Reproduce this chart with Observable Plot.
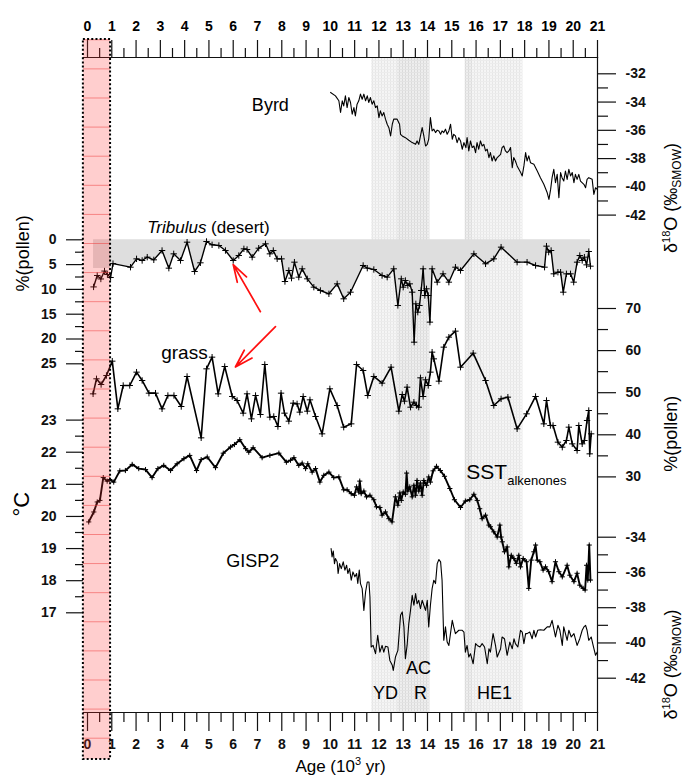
<!DOCTYPE html>
<html><head><meta charset="utf-8">
<script src="https://cdn.jsdelivr.net/npm/d3@7"></script>
<script src="https://cdn.jsdelivr.net/npm/@observablehq/plot@0.6"></script>
<style>
body{margin:0;background:#fff;}
#chart{position:relative;width:686px;height:781px;}
#chart svg{position:absolute;left:0;top:0;}
</style></head><body><div id="chart"></div>
<svg width="0" height="0" style="position:absolute">
  <defs>
    <pattern id="redgrid" patternUnits="userSpaceOnUse" width="8" height="29.1" y="10.2">
      <rect width="8" height="29.1" fill="#ff3030" fill-opacity="0.24"></rect>
      <line x1="0" x2="8" y1="0.5" y2="0.5" stroke="#ee4444" stroke-opacity="0.55" stroke-width="1"></line>
    </pattern>
    <pattern id="stipLight" patternUnits="userSpaceOnUse" width="3" height="3">
      <rect width="3" height="3" fill="#f5f5f5"></rect>
      <rect width="1" height="3" fill="#e6e6e6"></rect>
      <rect width="3" height="1" fill="#ececec"></rect>
    </pattern>
    <pattern id="stipDark" patternUnits="userSpaceOnUse" width="3" height="3">
      <rect width="3" height="3" fill="#eeeeee"></rect>
      <rect width="1" height="3" fill="#dadada"></rect>
      <rect width="3" height="1" fill="#e3e3e3"></rect>
    </pattern>
  </defs>
</svg>
<script>
// ---------- data ----------
const ageMajor = d3.range(0, 22);
const ageMinor = d3.range(0.5, 21, 1);
const byrdTicks = [-32, -34, -36, -38, -40, -42];
const byrdMinor = [-33, -35, -37, -39, -41];
const pollenTicks = [0, 5, 10, 15, 20, 25];
const pollenMinor = [2.5, 7.5, 12.5, 17.5, 22.5];
const grassTicks = [30, 40, 50, 60, 70];
const grassMinor = [35, 45, 55, 65];
const sstTicks = [17, 18, 19, 20, 21, 22, 23];
const sstMinor = [17.5, 18.5, 19.5, 20.5, 21.5, 22.5];
const gispTicks = [-34, -36, -38, -40, -42];
const gispMinor = [-35, -37, -39, -41];

const bands = [
  {x1: 11.7, x2: 12.75, tone: "light"},
  {x1: 12.75, x2: 14.1, tone: "dark"},
  {x1: 15.55, x2: 15.85, tone: "dark"},
  {x1: 15.85, x2: 17.93, tone: "light"}
];
const lateHolocene = [{x1: -0.17, x2: 0.95}];

const byrd = [[10.01,-33.32],[10.21,-33.56],[10.35,-33.91],[10.42,-34.74],[10.49,-33.91],[10.55,-34.27],[10.62,-33.56],[10.69,-34.39],[10.76,-33.68],[10.83,-34.03],[10.90,-34.86],[10.97,-34.39],[11.03,-34.98],[11.10,-34.15],[11.17,-33.91],[11.24,-33.44],[11.31,-33.80],[11.38,-33.44],[11.45,-33.91],[11.52,-33.56],[11.58,-34.03],[11.65,-33.68],[11.72,-34.15],[11.79,-33.91],[11.86,-34.39],[11.93,-34.27],[12.00,-35.10],[12.06,-34.62],[12.13,-34.98],[12.20,-34.74],[12.27,-35.21],[12.34,-35.57],[12.41,-35.81],[12.48,-36.40],[12.55,-35.57],[12.61,-35.21],[12.75,-35.21],[12.85,-35.57],[12.89,-36.28],[12.96,-36.40],[13.09,-36.52],[13.23,-36.70],[13.37,-36.87],[13.51,-36.99],[13.57,-36.75],[13.64,-36.99],[13.78,-35.81],[13.85,-36.40],[13.92,-37.11],[13.99,-36.99],[14.05,-36.63],[14.12,-35.10],[14.19,-36.04],[14.26,-35.92],[14.33,-36.16],[14.40,-35.99],[14.47,-36.04],[14.54,-36.28],[14.60,-36.04],[14.67,-36.16],[14.74,-35.92],[14.81,-36.28],[14.88,-36.04],[14.95,-35.57],[15.02,-36.63],[15.08,-36.28],[15.15,-36.40],[15.22,-36.87],[15.29,-36.52],[15.36,-36.75],[15.43,-37.34],[15.50,-36.87],[15.58,-37.22],[15.63,-36.52],[15.70,-37.46],[15.77,-36.75],[15.84,-37.22],[15.91,-37.11],[15.98,-37.58],[16.04,-36.87],[16.11,-37.34],[16.18,-36.75],[16.25,-37.11],[16.32,-36.99],[16.39,-37.46],[16.46,-37.34],[16.53,-37.93],[16.59,-37.58],[16.66,-38.17],[16.73,-37.81],[16.80,-38.17],[16.87,-37.93],[17.01,-37.70],[17.07,-37.22],[17.14,-37.11],[17.21,-37.46],[17.28,-37.58],[17.35,-37.46],[17.42,-37.22],[17.49,-38.64],[17.55,-37.93],[17.62,-38.17],[17.69,-38.52],[17.83,-38.96],[17.90,-39.23],[17.97,-38.52],[18.04,-37.58],[18.10,-38.17],[18.17,-37.81],[18.24,-38.29],[18.38,-38.40],[18.52,-38.88],[18.65,-39.35],[18.79,-39.82],[18.93,-40.42],[19.00,-40.89],[19.07,-40.18],[19.13,-39.35],[19.20,-38.76],[19.27,-39.71],[19.34,-39.12],[19.41,-40.77],[19.48,-38.99],[19.54,-39.35],[19.61,-39.59],[19.68,-38.88],[19.75,-39.47],[19.82,-38.76],[19.89,-39.23],[19.96,-38.99],[20.03,-39.71],[20.09,-39.12],[20.16,-39.47],[20.23,-39.12],[20.30,-39.59],[20.44,-39.82],[20.51,-40.06],[20.57,-39.47],[20.64,-39.35],[20.78,-39.47],[20.85,-40.53],[20.92,-40.06],[20.99,-40.18]];

const tribulus = [[0.25,9.5],[0.4,7.2],[0.55,7.9],[0.7,6.3],[0.82,7.0],[0.95,7.6],[1.05,4.8],[1.77,5.52],[2.02,3.84],[2.25,4.17],[2.46,3.50],[2.73,4.04],[3.07,2.16],[3.35,5.72],[3.55,2.83],[3.83,4.17],[4.10,0.48],[4.41,6.39],[4.65,4.64],[4.90,0.34],[5.13,1.01],[5.41,1.15],[5.68,2.16],[6.00,4.17],[6.23,3.17],[6.44,1.82],[6.57,1.96],[6.78,3.50],[7.05,1.69],[7.33,0.81],[7.51,2.83],[7.65,2.16],[7.81,3.84],[7.99,3.84],[8.13,8.41],[8.29,6.19],[8.40,7.73],[8.52,4.51],[8.70,7.53],[8.84,5.85],[9.05,7.87],[9.32,9.55],[9.59,10.22],[9.94,10.89],[10.28,8.88],[10.55,11.90],[10.83,10.56],[11.35,5.18],[11.52,5.72],[11.79,5.99],[12.13,7.20],[12.34,7.53],[12.61,5.85],[12.78,13.24],[12.92,7.87],[13.00,9.55],[13.09,8.21],[13.19,9.21],[13.27,8.88],[13.37,10.56],[13.45,20.64],[13.52,12.91],[13.60,14.59],[13.67,13.24],[13.74,10.22],[13.82,5.85],[13.89,11.23],[13.96,9.88],[14.03,11.23],[14.10,16.60],[14.19,5.85],[14.40,8.54],[14.64,6.86],[14.88,8.54],[15.15,5.52],[15.36,6.19],[15.91,2.83],[16.39,4.84],[16.73,3.84],[17.03,1.48],[17.69,4.51],[18.10,4.51],[18.45,5.18],[18.82,5.52],[18.90,1.28],[18.99,2.49],[19.09,2.16],[19.20,6.86],[19.37,6.53],[19.48,6.53],[19.59,10.56],[19.72,6.86],[19.89,6.86],[20.02,8.54],[20.16,4.51],[20.27,3.17],[20.37,4.17],[20.46,3.50],[20.55,5.05],[20.64,2.36],[20.71,5.32]];
const tribulusShadeEarly = [[0.25,5.8],[0.95,5.8]];

const grass = [[0.23,49.73],[0.37,53.3],[0.56,51.95],[0.78,54.08],[1.02,57.49],[1.25,46.17],[1.47,51.71],[1.74,51.71],[2.02,54.88],[2.25,52.9],[2.53,49.89],[2.80,49.89],[3.07,46.17],[3.31,49.33],[3.56,49.33],[3.86,46.72],[4.10,53.85],[4.68,39.28],[4.90,55.67],[5.13,58.44],[5.38,49.73],[5.65,56.22],[5.96,49.1],[6.16,48.15],[6.41,45.14],[6.57,49.73],[6.75,43.79],[6.92,49.33],[7.12,44.82],[7.30,56.7],[7.51,44.19],[7.67,44.35],[7.84,41.97],[7.97,49.89],[8.11,45.14],[8.29,43.24],[8.47,47.51],[8.63,47.35],[8.74,45.38],[8.88,49.1],[9.05,45.61],[9.16,48.3],[9.39,44.35],[9.66,40.23],[9.98,50.92],[10.28,46.96],[10.55,41.81],[10.86,42.6],[11.08,56.7],[11.35,55.27],[11.54,49.33],[11.79,53.85],[12.13,52.27],[12.50,56.06],[12.82,45.61],[12.96,49.57],[13.05,47.99],[13.16,51.31],[13.30,46.56],[13.44,47.75],[13.55,46.96],[13.64,46.56],[13.71,53.53],[13.82,49.1],[13.92,53.06],[14.03,51.71],[14.12,54.88],[14.19,59.63],[14.26,58.04],[14.47,52.74],[14.67,60.82],[14.88,63.19],[15.15,64.62],[15.36,56.06],[15.88,59.39],[16.39,52.9],[16.73,46.96],[17.03,48.54],[17.31,48.94],[17.69,41.42],[18.08,44.98],[18.45,49.1],[18.79,42.6],[18.90,48.15],[19.06,42.21],[19.17,42.21],[19.37,38.25],[19.55,37.06],[19.72,38.64],[19.82,41.81],[19.96,37.85],[20.16,36.27],[20.23,42.21],[20.37,37.85],[20.46,38.64],[20.57,43.4],[20.64,45.77],[20.68,35.48],[20.74,40.23]];

const sst = [[0.05,19.83],[0.26,20.14],[0.40,20.45],[0.51,20.50],[0.65,21.21],[0.81,21.10],[0.92,21.15],[1.08,21.07],[1.33,21.42],[1.56,21.43],[1.84,21.62],[2.11,21.49],[2.39,21.46],[2.66,21.21],[2.90,21.49],[3.14,21.59],[3.42,21.43],[3.69,21.64],[3.97,21.80],[4.21,21.90],[4.49,21.43],[4.68,21.77],[4.93,21.85],[5.27,21.52],[5.59,21.97],[5.89,22.16],[6.05,22.24],[6.27,22.39],[6.51,22.11],[6.64,22.00],[6.82,22.14],[7.19,21.83],[7.51,21.90],[7.88,21.97],[8.19,21.69],[8.36,21.75],[8.50,21.83],[8.70,21.59],[8.84,21.66],[8.98,21.49],[9.07,21.64],[9.25,21.38],[9.39,21.49],[9.57,21.07],[9.73,21.28],[9.94,21.38],[10.14,21.21],[10.35,21.23],[10.55,20.83],[10.69,20.83],[10.86,20.71],[10.99,20.66],[11.08,20.92],[11.17,20.76],[11.21,21.10],[11.27,20.71],[11.38,20.79],[11.49,20.61],[11.63,20.66],[11.79,20.52],[11.90,20.30],[12.04,20.28],[12.13,20.04],[12.27,20.14],[12.41,19.93],[12.54,19.83],[12.68,20.61],[12.78,20.35],[12.86,20.73],[12.92,20.50],[13.00,20.76],[13.09,20.69],[13.14,21.35],[13.19,20.79],[13.27,20.92],[13.37,20.61],[13.44,20.97],[13.51,20.66],[13.57,21.12],[13.64,20.79],[13.71,21.04],[13.78,20.66],[13.85,21.12],[13.96,20.97],[14.05,21.23],[14.12,21.07],[14.23,21.42],[14.37,21.56],[14.53,21.43],[14.70,21.25],[14.92,20.87],[15.11,20.52],[15.36,20.28],[15.56,20.48],[15.74,20.52],[15.91,20.69],[16.05,20.50],[16.15,20.24],[16.25,19.93],[16.39,20.04],[16.53,19.73],[16.59,19.68],[16.73,19.52],[16.87,19.36],[16.98,19.73],[17.03,19.36],[17.08,19.21],[17.17,18.90],[17.28,19.05],[17.35,18.43],[17.45,18.79],[17.56,18.69],[17.66,18.54],[17.76,18.79],[17.83,18.43],[17.94,18.69],[18.08,18.59],[18.17,17.76],[18.27,18.64],[18.38,18.90],[18.45,19.11],[18.52,18.64],[18.63,18.59],[18.76,18.33],[18.86,18.43],[18.99,18.28],[19.13,17.97],[19.27,18.59],[19.41,18.28],[19.55,18.12],[19.75,18.48],[19.86,18.17],[20.03,17.97],[20.16,18.23],[20.27,17.86],[20.41,17.76],[20.49,17.71],[20.55,18.48],[20.60,18.02],[20.66,19.11],[20.71,18.02]];

const gisp2 = [[10.03,-34.64],[10.07,-35.12],[10.12,-34.78],[10.17,-35.50],[10.21,-35.21],[10.28,-35.40],[10.32,-36.06],[10.38,-35.50],[10.45,-35.78],[10.53,-35.40],[10.60,-35.87],[10.67,-35.59],[10.72,-36.06],[10.79,-35.78],[10.86,-36.44],[10.93,-35.97],[11.01,-36.25],[11.08,-36.06],[11.13,-36.63],[11.19,-35.87],[11.24,-36.63],[11.31,-36.92],[11.38,-38.15],[11.45,-37.11],[11.52,-36.54],[11.59,-36.54],[11.63,-37.39],[11.68,-40.23],[11.76,-40.14],[11.86,-40.61],[11.95,-39.57],[12.04,-40.52],[12.13,-40.14],[12.20,-40.52],[12.27,-40.19],[12.37,-40.23],[12.45,-40.99],[12.55,-41.27],[12.59,-41.56],[12.68,-40.80],[12.78,-40.42],[12.89,-38.43],[12.96,-38.24],[13.03,-39.09],[13.09,-40.89],[13.16,-40.14],[13.23,-38.90],[13.30,-38.15],[13.37,-37.30],[13.44,-37.86],[13.51,-37.20],[13.57,-37.77],[13.64,-37.58],[13.71,-38.05],[13.78,-37.58],[13.85,-37.86],[13.92,-38.15],[13.99,-37.58],[14.05,-39.09],[14.12,-37.86],[14.19,-36.92],[14.26,-36.44],[14.33,-36.63],[14.40,-35.50],[14.47,-35.27],[14.54,-35.40],[14.60,-36.44],[14.67,-39.85],[14.74,-39.09],[14.81,-39.95],[14.88,-40.14],[15.02,-38.72],[15.08,-39.09],[15.15,-39.47],[15.29,-39.28],[15.43,-39.28],[15.50,-39.38],[15.56,-40.52],[15.63,-40.14],[15.70,-40.80],[15.77,-40.61],[15.88,-41.18],[15.98,-40.04],[16.05,-40.14],[16.16,-40.23],[16.25,-40.04],[16.35,-40.23],[16.46,-41.18],[16.53,-40.33],[16.59,-40.52],[16.70,-39.47],[16.80,-40.14],[16.87,-40.80],[17.01,-40.33],[17.07,-39.66],[17.17,-39.76],[17.28,-40.70],[17.39,-39.95],[17.49,-40.33],[17.56,-39.76],[17.62,-40.04],[17.72,-40.23],[17.83,-39.28],[17.90,-39.38],[17.97,-40.04],[18.04,-39.47],[18.10,-39.47],[18.21,-39.38],[18.31,-39.76],[18.38,-39.28],[18.45,-39.66],[18.54,-39.28],[18.65,-39.25],[18.79,-39.28],[18.93,-39.09],[19.04,-39.09],[19.13,-38.72],[19.20,-39.19],[19.27,-39.66],[19.37,-39.00],[19.45,-39.28],[19.55,-40.14],[19.61,-39.09],[19.68,-39.47],[19.75,-39.85],[19.82,-39.28],[19.92,-39.66],[20.03,-39.47],[20.16,-40.14],[20.27,-39.76],[20.37,-39.28],[20.44,-39.09],[20.51,-39.00],[20.57,-39.28],[20.64,-39.85],[20.74,-39.66],[20.82,-40.14],[20.92,-40.70],[20.99,-40.52]];

// ---------- rendering ----------
const FONT = '"Liberation Sans", Arial, Helvetica, sans-serif';
const W = 686, H = 781;
const X = {domain: [0, 21], range: [87, 597], axis: null};
const fmt = d => String(d);
const ax = d => d[0], vy = d => d[1];

function layer(y, marks, margins = {}) {
  return Plot.plot({
    width: W, height: H,
    marginTop: 57, marginBottom: 69, marginLeft: 83, marginRight: 89,
    ...margins,
    x: X,
    y: y ? {...y, axis: null} : undefined,
    style: {background: "transparent", fontFamily: FONT, overflow: "visible", color: "#111"},
    marks
  });
}
function axisPair(anchor, major, minor, size, sizeMinor, pad, labels = true) {
  const A = (anchor === "top" || anchor === "bottom") ? Plot.axisX : Plot.axisY;
  return [
    A({anchor, ticks: major, tickSize: size, tickPadding: pad, tickFormat: labels ? fmt : () => "", fontSize: 14, fontWeight: "bold", label: null, strokeWidth: 1.2}),
    A({anchor, ticks: minor, tickSize: sizeMinor, tickFormat: () => "", label: null, strokeWidth: 1.2})
  ];
}
function series(data, w, markers) {
  const m = [Plot.line(data, {x: ax, y: vy, stroke: "#000", strokeWidth: w, strokeLinejoin: "round"})];
  if (markers) m.push(Plot.dot(data, {x: ax, y: vy, symbol: "plus", r: markers, stroke: "#000", strokeWidth: 1}));
  return m;
}
const T = {fill: "#000", fontFamily: FONT};

const layers = [];
// shaded intervals
layers.push(layer(null, [
  Plot.barX(bands, {x1: "x1", x2: "x2", fill: d => d.tone === "dark" ? "url(#stipDark)" : "url(#stipLight)"})
]));
// age axes & frame
layers.push(layer(null, [
  Plot.frame({anchor: "top", strokeWidth: 1.2}),
  Plot.frame({anchor: "bottom", strokeWidth: 1.2}),
  Plot.frame({anchor: "right", strokeWidth: 1.2}),
  ...axisPair("top", ageMajor, ageMinor, 18, 10, 2, false),
  Plot.text(ageMajor, {x: d => d, text: fmt, frameAnchor: "top", dy: -36, fontSize: 14, fontWeight: "bold", ...T}),
  ...axisPair("bottom", ageMajor, ageMinor, 19, 10, 8),
  Plot.text(["Age (103 yr)"], {frameAnchor: "bottom", dy: 59, fontSize: 17, ...T})
]));
// Byrd
layers.push(layer({domain: [-42, -32], range: [214.6, 73.3]}, [
  ...axisPair("right", byrdTicks, byrdMinor, 18, 10, 10),
  ...series(byrd, 1.1, 0),
  Plot.text(["Byrd"], {x: 7.53, y: -34.2, fontSize: 18, ...T}),
  Plot.text(["δ18O (‰SMOW)"], {frameAnchor: "right", y: -36.9, dx: 74, rotate: -90, fontSize: 18, ...T})
]));
// Tribulus (left %pollen axis, reversed)
layers.push(layer({domain: [0, 25], range: [239.3, 363.3]}, [
  Plot.areaY(tribulusShadeEarly.concat(tribulus.filter(d => d[0] >= 1)), {x: ax, y1: 0, y2: vy, fill: "#dedede"}),
  ...axisPair("left", pollenTicks, pollenMinor, 17, 8, 10),
  ...series(tribulus, 1.4, 2.2),
  Plot.arrow([0], {x1: 7.12, y1: 14.5, x2: 6.0, y2: 5.0, stroke: "#ff1010", strokeWidth: 1.7, headLength: 24, headAngle: 34}),
  Plot.text(["Tribulus (desert)"], {x: 4.98, y: -2.5, fontSize: 17, ...T}),
  Plot.text(["%(pollen)"], {frameAnchor: "left", y: 10.4, dx: -60, rotate: -90, fontSize: 18, ...T})
]));
// grass (right %pollen axis)
layers.push(layer({domain: [30, 70], range: [476.4, 308]}, [
  ...axisPair("right", grassTicks, grassMinor, 18, 10, 10),
  ...series(grass, 1.6, 2.2),
  Plot.arrow([0], {x1: 7.74, y1: 65.7, x2: 6.09, y2: 56.1, stroke: "#ff1010", strokeWidth: 1.7, headLength: 24, headAngle: 34}),
  Plot.text(["grass"], {x: 3.99, y: 59.5, fontSize: 19, ...T}),
  Plot.text(["%(pollen)"], {frameAnchor: "right", y: 49.3, dx: 74, rotate: -90, fontSize: 18, ...T})
]));
// SST (left °C axis)
layers.push(layer({domain: [17, 23], range: [612.3, 419.6]}, [
  ...axisPair("left", sstTicks, sstMinor, 17, 8, 10),
  ...series(sst, 1.9, 1.8),
  Plot.text(["SSTalkenones"], {x: 15.6, y: 21.37, textAnchor: "start", fontSize: 21, ...T}),
  Plot.text(["°C"], {frameAnchor: "left", y: 20.0, dx: -62, rotate: -90, fontSize: 22, ...T})
]));
// GISP2
layers.push(layer({domain: [-42, -34], range: [677.7, 536.7]}, [
  ...axisPair("right", gispTicks, gispMinor, 18, 10, 10),
  ...series(gisp2, 1.1, 0),
  Plot.text(["GISP2"], {x: 6.8, y: -35.36, fontSize: 18, ...T}),
  Plot.text(["YD"], {x: 12.27, y: -42.86, fontSize: 18, ...T}),
  Plot.text(["AC"], {x: 13.63, y: -41.44, fontSize: 18, ...T}),
  Plot.text(["R"], {x: 13.71, y: -42.86, fontSize: 18, ...T}),
  Plot.text(["HE1"], {x: 16.76, y: -42.86, fontSize: 18, ...T}),
  Plot.text(["δ18O (‰SMOW)"], {frameAnchor: "right", y: -38.1, dx: 74, rotate: -90, fontSize: 18, ...T})
]));
// late-Holocene box
layers.push(layer(null, [
  Plot.barX(lateHolocene, {x1: "x1", x2: "x2", fill: "url(#redgrid)"}),
  Plot.barX(lateHolocene, {x1: "x1", x2: "x2", fill: "none", stroke: "#000", strokeWidth: 2, strokeDasharray: "2,2.2"})
], {marginTop: 39, marginBottom: 22}));

const chart = document.getElementById("chart");
layers.forEach(l => chart.appendChild(l));

// rich text (italics, sub/superscripts)
const rich = {
  "Tribulus (desert)": [{t: "Tribulus", style: "italic"}, {t: " (desert)"}],
  "SSTalkenones": [{t: "SST"}, {t: "alkenones", size: 13, dy: 6}],
  "δ18O (‰SMOW)": [{t: "δ"}, {t: "18", size: 11, dy: -7}, {t: "O ("}, {t: "‰"}, {t: "SMOW", size: 12, dy: 4}, {t: ")"}],
  "Age (103 yr)": [{t: "Age (10"}, {t: "3", size: 11, dy: -7}, {t: " yr)"}]
};
chart.querySelectorAll("text").forEach(el => {
  const spec = rich[el.textContent];
  if (!spec) return;
  el.textContent = "";
  let shift = 0;
  spec.forEach(s => {
    const ts = document.createElementNS("http://www.w3.org/2000/svg", "tspan");
    const want = s.dy || 0;
    if (want !== shift) ts.setAttribute("dy", want - shift);
    shift = want;
    if (s.size) ts.setAttribute("font-size", s.size);
    if (s.style) ts.setAttribute("font-style", s.style);
    ts.textContent = s.t;
    el.appendChild(ts);
  });
});
</script></body></html>
